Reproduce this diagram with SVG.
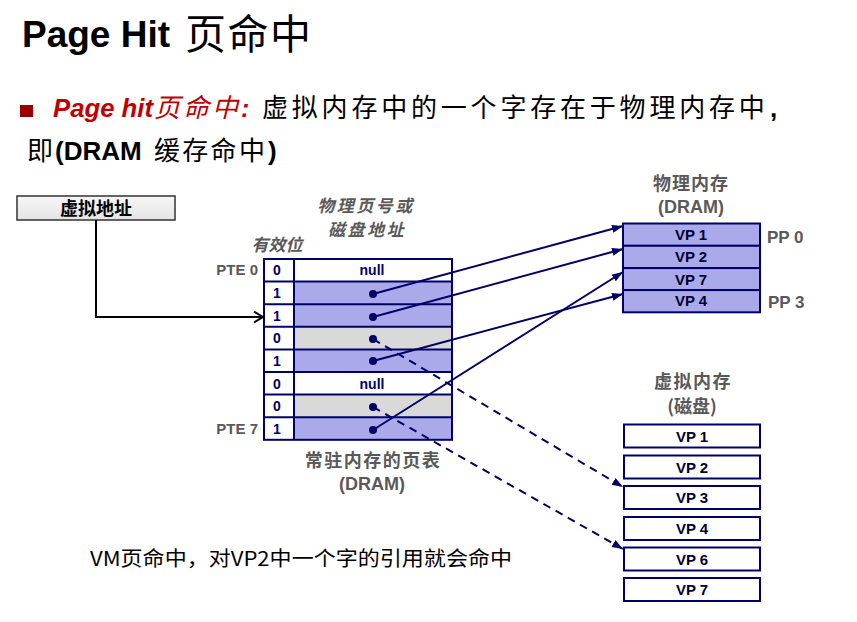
<svg xmlns="http://www.w3.org/2000/svg" width="857" height="622" viewBox="0 0 857 622">
<style>
text{font-family:"Liberation Sans","Noto Sans CJK SC",sans-serif}
.cjk{font-family:"Noto Sans CJK SC","Liberation Sans",sans-serif}
.lbl{fill:#595959;font-weight:bold;font-size:18px;text-anchor:middle}
.ital{fill:#595959;font-style:italic;font-weight:bold;font-size:17px;text-anchor:middle}
.cell{fill:#000066;font-weight:bold;font-size:14px;text-anchor:middle}
.vp{fill:#000033;font-weight:bold;font-size:15px;text-anchor:middle}
.pte{fill:#595959;font-weight:bold;font-size:15px;text-anchor:end}
.pp{fill:#595959;font-weight:bold;font-size:17px}
.tb{stroke:#000066;stroke-width:2}
.blue{fill:#aaaaea}
.gray{fill:#d9d9d9}
.white{fill:#ffffff}
.conn{stroke:#000066;stroke-width:2;fill:none}
.dash{stroke-dasharray:8,6}
</style>
<defs>
<marker id="ah" markerUnits="userSpaceOnUse" markerWidth="12" markerHeight="10" refX="11" refY="4" orient="auto">
<path d="M0,0 L11,4 L0,8 Z" fill="#000066"/>
</marker>
<marker id="ab" markerUnits="userSpaceOnUse" markerWidth="14" markerHeight="14" refX="12" refY="7" orient="auto">
<path d="M3,1.5 L12,7 L3,12.5" fill="none" stroke="#000" stroke-width="2"/>
</marker>
<linearGradient id="gbox" x1="0" y1="0" x2="0" y2="1">
<stop offset="0" stop-color="#f7f7f7"/>
<stop offset="1" stop-color="#e4e4e4"/>
</linearGradient>
</defs>
<rect width="857" height="622" fill="#ffffff"/>

<g id="title">
<text x="22" y="47" font-size="37" font-weight="bold" fill="#000">Page Hit</text>
<text class="cjk" x="185" y="49" font-size="41" fill="#000" letter-spacing="1.5">页命中</text>
</g>

<g id="bullet">
<rect x="20" y="105" width="13" height="12" fill="#990000"/>
<text x="53" y="117" font-size="25" font-weight="bold" font-style="italic" fill="#c00000" textLength="100" lengthAdjust="spacingAndGlyphs">Page hit</text>
<text class="cjk" x="154" y="117" font-size="26" font-style="italic" fill="#c00000" letter-spacing="3">页命中</text>
<text x="241" y="117" font-size="25" font-weight="bold" font-style="italic" fill="#c00000">:</text>
<text class="cjk" x="262" y="117" font-size="26" fill="#000" letter-spacing="3.8">虚拟内存中的一个字存在于物理内存中</text>
<text x="770" y="117" font-size="26" font-weight="bold" fill="#000">,</text>
<text class="cjk" x="27" y="160" font-size="26" fill="#000">即</text>
<text x="55" y="160" font-size="26" font-weight="bold" fill="#000">(DRAM</text>
<text class="cjk" x="154" y="160" font-size="26" fill="#000" letter-spacing="2.3">缓存命中</text>
<text x="268" y="160" font-size="26" font-weight="bold" fill="#000">)</text>
</g>

<g id="va">
<rect x="17" y="196" width="158" height="24" fill="url(#gbox)" stroke="#333" stroke-width="1.5"/>
<text class="cjk" x="96" y="215" font-size="18" font-weight="bold" text-anchor="middle" fill="#000">虚拟地址</text>
</g>

<g id="pt-labels">
<text class="ital cjk" x="366" y="212" letter-spacing="2.5">物理页号或</text>
<text class="ital cjk" x="367" y="236" letter-spacing="2.5">磁盘地址</text>
<text class="ital cjk" x="277" y="251" font-size="16">有效位</text>
<text class="pte" x="258" y="275">PTE 0</text>
<text class="pte" x="258" y="434">PTE 7</text>
<text class="lbl cjk" x="373" y="467" letter-spacing="1.5">常驻内存的页表</text>
<text class="lbl" x="372" y="490">(DRAM)</text>
</g>

<g id="page-table">
<rect class="white" x="264" y="259" width="188" height="22.6"/>
<rect class="blue" x="294" y="281.6" width="158" height="22.6"/>
<rect class="blue" x="294" y="304.2" width="158" height="22.6"/>
<rect class="gray" x="294" y="326.8" width="158" height="22.6"/>
<rect class="blue" x="294" y="349.4" width="158" height="22.6"/>
<rect class="white" x="294" y="372" width="158" height="22.6"/>
<rect class="gray" x="294" y="394.6" width="158" height="22.6"/>
<rect class="blue" x="294" y="417.2" width="158" height="22.6"/>
<rect x="264" y="259" width="30" height="180.8" fill="#fff"/>
<g class="tb">
<rect x="264" y="259" width="188" height="180.8" fill="none"/>
<line x1="294" y1="259" x2="294" y2="439.8"/>
<line x1="264" y1="281.6" x2="452" y2="281.6"/>
<line x1="264" y1="304.2" x2="452" y2="304.2"/>
<line x1="264" y1="326.8" x2="452" y2="326.8"/>
<line x1="264" y1="349.4" x2="452" y2="349.4"/>
<line x1="264" y1="372" x2="452" y2="372"/>
<line x1="264" y1="394.6" x2="452" y2="394.6"/>
<line x1="264" y1="417.2" x2="452" y2="417.2"/>
</g>
<text class="cell" x="277" y="275">0</text>
<text class="cell" x="277" y="298">1</text>
<text class="cell" x="277" y="320.5">1</text>
<text class="cell" x="277" y="343">0</text>
<text class="cell" x="277" y="365.5">1</text>
<text class="cell" x="277" y="388.5">0</text>
<text class="cell" x="277" y="411">0</text>
<text class="cell" x="277" y="433.5">1</text>
<text class="cell" x="372" y="275">null</text>
<text class="cell" x="372" y="388.5">null</text>
<g fill="#000066">
<circle cx="373" cy="294" r="4"/>
<circle cx="373" cy="317" r="4"/>
<circle cx="373" cy="339" r="4"/>
<circle cx="373" cy="361" r="4"/>
<circle cx="373" cy="407" r="4"/>
<circle cx="373" cy="430" r="4"/>
</g>
</g>

<g id="phys-mem">
<text class="lbl cjk" x="691" y="190" letter-spacing="1">物理内存</text>
<text class="lbl" x="691" y="213">(DRAM)</text>
<rect class="blue tb" x="623" y="223.5" width="137" height="22.3"/>
<rect class="blue tb" x="623" y="245.8" width="137" height="22.3"/>
<rect class="blue tb" x="623" y="268.1" width="137" height="22"/>
<rect class="blue tb" x="623" y="290.1" width="137" height="22.2"/>
<text class="vp" x="691" y="240">VP 1</text>
<text class="vp" x="691" y="262">VP 2</text>
<text class="vp" x="691" y="284.5">VP 7</text>
<text class="vp" x="691" y="306">VP 4</text>
<text class="pp" x="767" y="243">PP 0</text>
<text class="pp" x="768" y="308">PP 3</text>
</g>

<g id="disk">
<text class="lbl cjk" x="693" y="388" font-size="17" letter-spacing="1.5">虚拟内存</text>
<text class="lbl cjk" x="692" y="413" font-size="16">(磁盘)</text>
<g class="tb" fill="#fff">
<rect x="624" y="424.5" width="136" height="23"/>
<rect x="624" y="455.5" width="136" height="23"/>
<rect x="624" y="486" width="136" height="23"/>
<rect x="624" y="517" width="136" height="23"/>
<rect x="624" y="547.5" width="136" height="23"/>
<rect x="624" y="578" width="136" height="23"/>
</g>
<text class="vp" x="692" y="441.5">VP 1</text>
<text class="vp" x="692" y="472.5">VP 2</text>
<text class="vp" x="692" y="503">VP 3</text>
<text class="vp" x="692" y="534">VP 4</text>
<text class="vp" x="692" y="564.5">VP 6</text>
<text class="vp" x="692" y="595">VP 7</text>
</g>

<g id="connectors">
<path d="M96,220 V317 H263" fill="none" stroke="#000" stroke-width="2" marker-end="url(#ab)"/>
<line class="conn" x1="373" y1="294" x2="623" y2="226" marker-end="url(#ah)"/>
<line class="conn" x1="373" y1="317" x2="623" y2="249" marker-end="url(#ah)"/>
<line class="conn" x1="373" y1="361" x2="623" y2="294" marker-end="url(#ah)"/>
<line class="conn" x1="373" y1="430" x2="623" y2="272" marker-end="url(#ah)"/>
<line class="conn dash" x1="373" y1="339" x2="623" y2="487" marker-end="url(#ah)"/>
<line class="conn dash" x1="373" y1="407" x2="623" y2="549" marker-end="url(#ah)"/>
</g>

<g id="note">
<text class="cjk" x="90" y="566" font-size="20" fill="#000" textLength="422" lengthAdjust="spacingAndGlyphs">VM页命中，对VP2中一个字的引用就会命中</text>
</g>
</svg>
